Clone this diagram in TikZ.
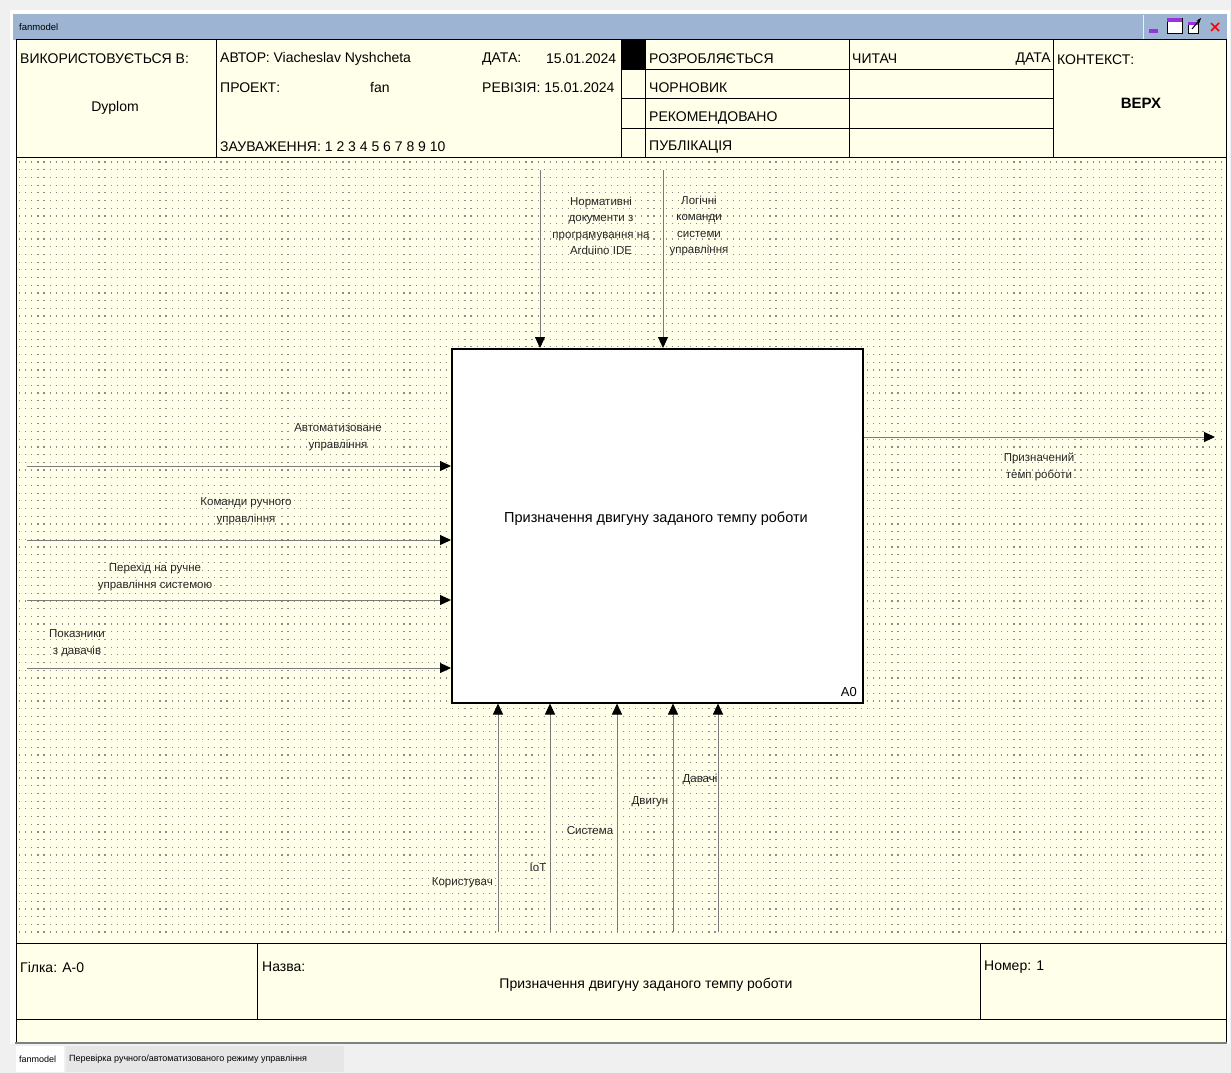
\documentclass[tikz,border=0pt]{standalone}
\usepackage{fontspec}
\setmainfont{Liberation Sans}
\usetikzlibrary{arrows.meta}
\definecolor{cream}{HTML}{FFFFEA}
\definecolor{titleblue}{HTML}{9DB5D2}
\definecolor{bggray}{HTML}{F0F0F0}
\definecolor{dotgray}{HTML}{8C8C8C}
\definecolor{linegray}{HTML}{7A7A7A}
\definecolor{btnpurple}{HTML}{9B30E0}
\definecolor{tabgray}{HTML}{E6E6E6}
\begin{document}
\begin{tikzpicture}[x=1pt,y=-1pt,
  hdr/.style={anchor=west, inner sep=0pt, font=\fontsize{14}{16}\selectfont},
  lbl/.style={align=center, inner sep=0pt, font=\fontsize{11.5}{16.5}\selectfont, text=black!85},
  arr/.style={draw=linegray, line width=1pt, -{Triangle[length=11pt,width=10pt,color=black]}},
  frame/.style={draw=black, line width=1pt},
]
\useasboundingbox (0,0) rectangle (1231,1073);
% window
\fill[bggray] (0,0) rectangle (1231,1073);
\fill[white] (10,10) rectangle (1230,1044);
\fill[titleblue] (13,14) rectangle (1227,40);
\node[anchor=west, inner sep=0pt, font=\fontsize{9.5}{11}\selectfont] (title) at (19,27) {fanmodel};
\draw[white!80!titleblue] (1143,15) -- (1143,39);
% buttons
\fill[btnpurple] (1149,29) rectangle (1158,33);
\draw[black, fill=white] (1167,18) rectangle (1182,33);
\fill[btnpurple] (1167,18) rectangle (1182,22);
\draw[black, fill=white] (1188,22) rectangle (1198,33);
\fill[btnpurple] (1188,22) rectangle (1198,25);
\draw[black, line width=1pt, -{Stealth[length=5pt]}] (1192,29) -- (1201,18);
\draw[red, line width=1.5pt] (1211,23) -- (1219,31) (1219,23) -- (1211,31);

% diagram area
\fill[cream] (16,157) rectangle (1226,943);
\foreach \yy in {0,...,100} {
  \draw[dotgray, line width=1.2pt, dash pattern=on 1.2pt off 4.9pt] (19,{162+7.7*\yy}) -- (1224,{162+7.7*\yy});
}
\draw[frame] (16,157) -- (16,943) (1226,157) -- (1226,943);

% header
\draw[frame, fill=cream] (16,40) rectangle (1226,157);
\draw[frame] (216,40) -- (216,157) (621,40) -- (621,157) (645,40) -- (645,157)
  (849,40) -- (849,157) (1053,40) -- (1053,157);
\fill[black] (621,40) rectangle (645,70);
\draw[frame] (621,70) -- (1053,70) (621,98) -- (1053,98) (621,128) -- (1053,128);
\node[hdr] (used) at (20,59) {ВИКОРИСТОВУЄТЬСЯ В:};
\node[inner sep=0pt, font=\fontsize{14}{16}\selectfont] (dyplom) at (115,108) {Dyplom};
\node[hdr] (author) at (220,59) {АВТОР: Viacheslav Nyshcheta};
\node[hdr] (datel) at (482,59) {ДАТА:};
\node[hdr] (datev) at (546,59) {15.01.2024};
\node[hdr] (proj) at (220,88) {ПРОЕКТ:};
\node[hdr] (fan) at (370,88) {fan};
\node[hdr] (rev) at (482,88) {РЕВІЗІЯ: 15.01.2024};
\node[hdr] (notes) at (220,147) {ЗАУВАЖЕННЯ: 1 2 3 4 5 6 7 8 9 10};
\node[hdr] (s1) at (649,59) {РОЗРОБЛЯЄТЬСЯ};
\node[hdr] (s2) at (649,88) {ЧОРНОВИК};
\node[hdr] (s3) at (649,118) {РЕКОМЕНДОВАНО};
\node[hdr] (s4) at (649,147) {ПУБЛІКАЦІЯ};
\node[hdr] (reader) at (852,59) {ЧИТАЧ};
\node[hdr, anchor=east] (rdate) at (1051,59) {ДАТА};
\node[hdr] (ctx) at (1057,60) {КОНТЕКСТ:};
\node[inner sep=0pt, font=\fontsize{15}{17}\selectfont\bfseries] (topctx) at (1141,103) {ВЕРХ};

% main box
\node[draw=black, line width=1.5pt, fill=white, minimum width=411pt, minimum height=354pt,
  inner sep=0pt, anchor=north west] (box) at (451,348) {};
\node[inner sep=0pt, font=\fontsize{14.5}{17}\selectfont] (boxtext) at (656,519) {Призначення двигуну заданого темпу роботи};
\node[inner sep=0pt, anchor=south east, font=\fontsize{13}{15}\selectfont] (boxnum) at (857,697) {A0};

% controls
\coordinate (c1) at (540,170);
\coordinate (c2) at (663,170);
\draw[arr] (c1) -- (c1 |- box.north);
\draw[arr] (c2) -- (c2 |- box.north);
\node[lbl] (lc1) at (601,226) {Нормативні\\документи з\\програмування на\\Arduino IDE};
\node[lbl] (lc2) at (699,226) {Логічні\\команди\\системи\\управління};

% inputs
\coordinate (i1) at (27,466);
\coordinate (i2) at (27,540);
\coordinate (i3) at (27,600);
\coordinate (i4) at (27,668);
\draw[arr] (i1) -- (box.west |- i1);
\draw[arr] (i2) -- (box.west |- i2);
\draw[arr] (i3) -- (box.west |- i3);
\draw[arr] (i4) -- (box.west |- i4);
\node[lbl] (li1) at (338,437) {Автоматизоване\\управління};
\node[lbl] (li2) at (246,511) {Команди ручного\\управління};
\node[lbl] (li3) at (155,577) {Перехід на ручне\\управління системою};
\node[lbl] (li4) at (77,643) {Показники\\з давачів};

% output
\coordinate (o1) at (1215,437);
\draw[arr] (box.east |- o1) -- (o1);
\node[lbl] (lo1) at (1039,467) {Призначений\\темп роботи};

% mechanisms
\coordinate (m1) at (498,932);
\coordinate (m2) at (550,932);
\coordinate (m3) at (617,932);
\coordinate (m4) at (673,932);
\coordinate (m5) at (718,932);
\draw[arr] (m1) -- (m1 |- box.south);
\draw[arr] (m2) -- (m2 |- box.south);
\draw[arr] (m3) -- (m3 |- box.south);
\draw[arr] (m4) -- (m4 |- box.south);
\draw[arr] (m5) -- (m5 |- box.south);
\node[lbl, anchor=east] (lm1) at (493,883) {Користувач};
\node[lbl] (lm2) at (538,868) {IoT};
\node[lbl] (lm3) at (590,831) {Система};
\node[lbl] (lm4) at (650,802) {Двигун};
\node[lbl] (lm5) at (700,779) {Давачі};

% footer
\fill[cream] (16,1019) rectangle (1226,1042);
\draw[frame] (16,1019) -- (16,1042) (1226,1019) -- (1226,1042);
\draw[black!50, line width=2pt] (15,1043) -- (1227,1043);
\draw[frame, fill=cream] (16,943) rectangle (1226,1019);
\draw[frame] (257,943) -- (257,1019) (980,943) -- (980,1019);
\node[hdr] (branch) at (20,967) {Гілка: A-0};
\node[hdr] (fname) at (262,967) {Назва:};
\node[inner sep=0pt, font=\fontsize{14}{16}\selectfont] (ftitle) at (646,985) {Призначення двигуну заданого темпу роботи};
\node[hdr] (fnum) at (984,967) {Номер: 1};

% tabs
\fill[white] (16,1046) rectangle (64,1072);
\fill[tabgray] (66,1046) rectangle (344,1072);
\node[anchor=west, inner sep=0pt, font=\fontsize{9}{11}\selectfont] (tab1) at (19,1059) {fanmodel};
\node[anchor=west, inner sep=0pt, font=\fontsize{9}{11}\selectfont] (tab2) at (69,1059) {Перевірка ручного/автоматизованого режиму управління};
\end{tikzpicture}
\end{document}
